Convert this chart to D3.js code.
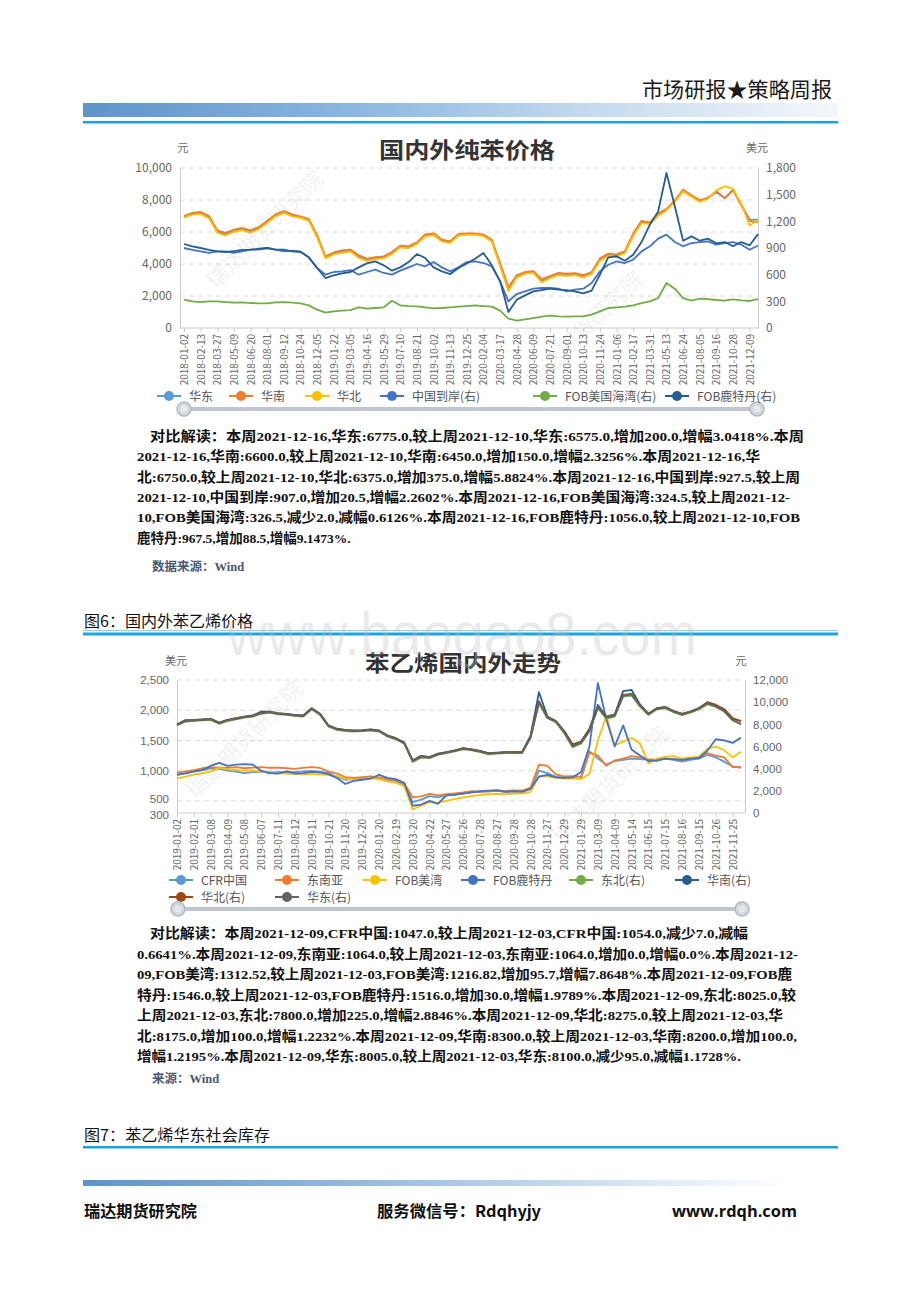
<!DOCTYPE html>
<html><head><meta charset="utf-8">
<script src="https://cdn.jsdelivr.net/npm/d3@7"></script>
<style>
html,body{margin:0;padding:0;background:#fff;}
svg{display:block;}
</style></head><body>
<svg id="page" width="920" height="1302"></svg>
<script>
// ---------------- Chart 1: 国内外纯苯价格 ----------------
const c1Labels = ["2018-01-02","2018-02-13","2018-03-27","2018-05-09","2018-06-20","2018-08-01","2018-09-12","2018-10-24","2018-12-05","2019-01-22","2019-03-05","2019-04-16","2019-05-29","2019-07-10","2019-08-21","2019-10-02","2019-11-13","2019-12-25","2020-02-04","2020-03-17","2020-04-28","2020-06-09","2020-07-21","2020-09-01","2020-10-13","2020-11-24","2021-01-06","2021-02-17","2021-03-31","2021-05-13","2021-06-24","2021-08-05","2021-09-16","2021-10-28","2021-12-09"];
const c1Names = ["华东","华南","华北","中国到岸(右)","FOB美国海湾(右)","FOB鹿特丹(右)"];
const c1Colors = ["#5B9BD5","#ED7D31","#FFC000","#4472C4","#70AD47","#255E91"];
const c1LeftTicks = [0,2000,4000,6000,8000,10000];
const c1RightTicks = [0,300,600,900,1200,1500,1800];
// 2 samples per label interval (元)
const c1_huadong = [6950,7150,7190,6920,6040,5870,6080,6190,6040,6250,6625,7040,7250,7040,6920,6750,5730,4420,4670,4790,4850,4480,4270,4375,4420,4690,5100,5040,5310,5790,5870,5460,5370,5830,5870,5870,5790,5460,3960,2500,3230,3440,3500,2960,3170,3375,3330,3375,3230,3440,4270,4580,4540,4750,5830,6625,6560,7080,7400,7920,8580,8230,7920,8120,8500,8120,8650,7710,6770,6775];
const c1_huanan = [7000,7200,7250,7000,6100,5950,6150,6250,6100,6300,6700,7100,7300,7100,6980,6800,5800,4480,4720,4850,4900,4550,4330,4430,4480,4750,5150,5100,5350,5850,5920,5520,5420,5880,5920,5920,5840,5520,4050,2550,3300,3500,3560,3050,3250,3450,3400,3430,3300,3500,4350,4650,4600,4800,5900,6700,6600,7150,7450,7980,8650,8300,7980,8150,8550,8100,8600,7650,6700,6600];
const c1_huabei = [6900,7080,7120,6850,5950,5780,6000,6120,5950,6180,6560,6980,7200,6980,6880,6700,5650,4350,4600,4700,4780,4380,4180,4300,4350,4620,5040,4980,5250,5720,5800,5400,5300,5780,5820,5830,5740,5400,3850,2300,3150,3380,3450,2850,3100,3300,3250,3300,3150,3380,4200,4500,4450,4680,5750,6550,6500,7000,7350,7880,8550,8200,7880,8080,8600,8850,8700,7750,6400,6750];
// 美元
const c1_cn = [900,878,862,844,862,862,844,862,881,881,900,881,862,870,862,795,675,600,630,637,652,600,630,656,619,600,645,682,720,694,742,682,637,682,742,750,731,694,525,300,382,412,442,450,450,442,412,431,442,506,637,712,750,731,769,862,919,1005,1050,967,919,956,967,975,937,956,967,937,881,927.5];
const c1_usg = [319,300,292,300,300,292,285,289,281,277,277,289,292,285,277,255,206,172,187,195,202,232,217,225,232,307,255,247,244,232,221,225,232,240,247,255,247,240,195,105,82,97,112,127,139,131,127,131,131,150,187,225,232,240,255,281,300,337,506,442,337,307,330,326,315,307,322,311,304,324.5];
const c1_rtd = [945,919,900,878,862,855,866,878,881,892,900,881,881,862,855,795,675,562,592,615,630,682,727,750,705,645,682,742,832,787,682,637,607,675,727,780,844,705,525,180,319,367,412,427,442,431,427,412,390,420,600,795,806,757,825,967,1162,1312,1744,1369,982,1031,982,1005,952,967,919,967,930,1056];

// ---------------- Chart 2: 苯乙烯国内外走势 ----------------
const c2Labels = ["2019-01-02","2019-02-01","2019-03-08","2019-04-09","2019-05-08","2019-06-07","2019-07-11","2019-08-12","2019-09-11","2019-10-21","2019-11-20","2019-12-20","2020-01-20","2020-02-19","2020-03-20","2020-04-22","2020-05-27","2020-06-26","2020-07-28","2020-08-27","2020-09-28","2020-10-28","2020-11-27","2020-12-29","2021-01-29","2021-03-09","2021-04-09","2021-05-14","2021-06-15","2021-07-15","2021-08-16","2021-09-15","2021-10-26","2021-11-25"];
const c2Names = ["CFR中国","东南亚","FOB美湾","FOB鹿特丹","东北(右)","华南(右)","华北(右)","华东(右)"];
const c2Colors = ["#5B9BD5","#ED7D31","#FFC000","#4472C4","#70AD47","#255E91","#9E480E","#636363"];
const c2LeftTicks = [300,500,1000,1500,2000,2500];
const c2RightTicks = [0,2000,4000,6000,8000,10000,12000];
// 美元
const c2_cfr = [930,960,985,1010,1040,1030,1000,985,960,975,985,970,975,980,975,990,995,985,960,900,850,860,870,895,880,850,830,770,480,520,580,560,590,610,625,640,650,660,665,650,660,660,700,1000,960,900,880,885,870,1320,1200,1100,1160,1180,1200,1190,1180,1160,1200,1180,1150,1180,1200,1260,1220,1150,1070,1047];
const c2_sea = [967,990,1010,1040,1055,1050,1045,1060,1040,1050,1060,1045,1050,1040,1030,1045,1060,1045,985,950,895,880,895,905,890,860,845,790,560,575,615,590,610,625,640,660,655,660,670,665,675,670,720,1100,1080,940,905,910,900,1300,1250,1080,1170,1200,1240,1220,1190,1180,1200,1190,1175,1200,1220,1290,1250,1220,1060,1064];
const c2_usg = [870,900,935,960,985,1050,1020,1010,1000,1005,990,960,955,950,945,940,945,935,930,910,870,850,860,875,860,825,800,740,360,420,480,470,500,530,560,580,600,610,615,610,620,620,650,910,905,880,870,875,860,950,1500,1900,1420,1480,1540,1450,1120,1200,1230,1240,1200,1220,1230,1360,1400,1340,1220,1312.52];
const c2_rtd = [930,955,990,1010,1080,1130,1080,1100,1110,1100,1000,960,950,990,955,960,980,970,940,880,780,830,850,870,930,880,860,800,420,440,500,450,590,600,620,640,660,670,680,650,660,650,700,900,930,890,880,890,980,1400,2450,1850,1400,1750,1350,1250,1160,1170,1200,1190,1180,1200,1210,1330,1520,1500,1460,1546];
// 元
const c2_db = [7900,8250,8300,8350,8400,8050,8300,8450,8600,8700,8950,9050,8900,8850,8750,8700,9350,8850,7800,7500,7400,7350,7380,7450,7350,6900,6650,6250,4600,5000,4950,5250,5400,5550,5750,5650,5500,5300,5350,5400,5400,5400,6750,9900,8550,8200,7200,5950,6250,7350,9450,8500,8700,10500,10600,9600,8850,9350,9450,9100,8850,9050,9350,9800,9600,9150,8350,8025];
const c2_hn = [8000,8380,8400,8450,8500,8150,8400,8550,8700,8800,9150,9150,9000,8950,8850,8800,9450,8950,7900,7600,7500,7450,7470,7550,7450,7000,6750,6350,4750,5150,5050,5350,5500,5650,5850,5750,5600,5400,5450,5500,5500,5500,6950,10900,8700,8300,7400,6200,6450,7600,9750,8700,8900,11000,11100,9800,8950,9450,9550,9200,8950,9150,9450,10000,9750,9350,8550,8300];
const c2_hb = [7980,8330,8380,8430,8480,8130,8380,8530,8680,8780,9030,9130,8980,8930,8830,8780,9430,8930,7880,7580,7480,7430,7450,7510,7430,6980,6730,6330,4730,5130,5030,5330,5480,5630,5830,5730,5580,5380,5430,5480,5480,5480,6880,10100,8650,8300,7350,6150,6420,7550,9550,8650,8850,10650,10750,9750,8950,9450,9550,9200,8950,9150,9450,9950,9750,9350,8550,8275];
const c2_hd = [7950,8300,8350,8400,8450,8100,8350,8500,8650,8750,9000,9100,8950,8900,8800,8750,9400,8900,7850,7550,7450,7400,7420,7480,7400,6950,6700,6300,4700,5100,5000,5300,5450,5600,5800,5700,5550,5350,5400,5450,5450,5450,6850,10000,8600,8250,7300,6000,6350,7400,9600,8600,8800,10600,10700,9700,8900,9400,9500,9150,8850,9150,9450,9900,9600,9200,8400,8005];

// ---------------- Texts ----------------
const c1Text = [
 ["对比解读：本周2021-12-16,华东:6775.0,较上周2021-12-10,华东:6575.0,增加200.0,增幅3.0418%.本周",150,804],
 ["2021-12-16,华南:6600.0,较上周2021-12-10,华南:6450.0,增加150.0,增幅2.3256%.本周2021-12-16,华",137,760],
 ["北:6750.0,较上周2021-12-10,华北:6375.0,增加375.0,增幅5.8824%.本周2021-12-16,中国到岸:927.5,较上周",137,800],
 ["2021-12-10,中国到岸:907.0,增加20.5,增幅2.2602%.本周2021-12-16,FOB美国海湾:324.5,较上周2021-12-",137,790],
 ["10,FOB美国海湾:326.5,减少2.0,减幅0.6126%.本周2021-12-16,FOB鹿特丹:1056.0,较上周2021-12-10,FOB",137,800],
 ["鹿特丹:967.5,增加88.5,增幅9.1473%.",137,null]
];
const c2Text = [
 ["对比解读：本周2021-12-09,CFR中国:1047.0,较上周2021-12-03,CFR中国:1054.0,减少7.0,减幅",150,748],
 ["0.6641%.本周2021-12-09,东南亚:1064.0,较上周2021-12-03,东南亚:1064.0,增加0.0,增幅0.0%.本周2021-12-",137,798],
 ["09,FOB美湾:1312.52,较上周2021-12-03,FOB美湾:1216.82,增加95.7,增幅7.8648%.本周2021-12-09,FOB鹿",137,792],
 ["特丹:1546.0,较上周2021-12-03,FOB鹿特丹:1516.0,增加30.0,增幅1.9789%.本周2021-12-09,东北:8025.0,较",137,796],
 ["上周2021-12-03,东北:7800.0,增加225.0,增幅2.8846%.本周2021-12-09,华北:8275.0,较上周2021-12-03,华",137,783],
 ["北:8175.0,增加100.0,增幅1.2232%.本周2021-12-09,华南:8300.0,较上周2021-12-03,华南:8200.0,增加100.0,",137,797],
 ["增幅1.2195%.本周2021-12-09,华东:8005.0,较上周2021-12-03,华东:8100.0,减少95.0,减幅1.1728%.",137,741]
];

// =====================================================
const svg = d3.select('#page');
const CJK = '"Noto Sans CJK SC","Noto Sans",sans-serif';
const SERIF = '"Liberation Serif","Noto Sans CJK SC",serif';
svg.append('rect').attr('width',920).attr('height',1302).attr('fill','#fff');
const defs = svg.append('defs');
const gr = defs.append('linearGradient').attr('id','hdr').attr('x1','0').attr('x2','1').attr('y1','0').attr('y2','0');
gr.append('stop').attr('offset','0').attr('stop-color','#5f93c9');
gr.append('stop').attr('offset','0.35').attr('stop-color','#8ab6e0');
gr.append('stop').attr('offset','0.7').attr('stop-color','#c9ddef');
gr.append('stop').attr('offset','1').attr('stop-color','#f4f7fb');
const gr2 = defs.append('linearGradient').attr('id','ftr').attr('x1','0').attr('x2','1').attr('y1','0').attr('y2','0');
gr2.append('stop').attr('offset','0').attr('stop-color','#5f93c9');
gr2.append('stop').attr('offset','0.45').attr('stop-color','#9cc0e3');
gr2.append('stop').attr('offset','1').attr('stop-color','#ffffff');

function txt(s,x,y,o){
  const t = svg.append('text').attr('x',x).attr('y',y).text(s)
    .attr('font-family',o.family||CJK).attr('font-size',o.size||12)
    .attr('fill',o.fill||'#000').attr('font-weight',o.weight||'normal')
    .attr('text-anchor',o.anchor||'start');
  if(o.len){t.attr('textLength',o.len).attr('lengthAdjust','spacingAndGlyphs');}
  return t;
}

// Header
txt('市场研报★策略周报',832,97,{size:21,anchor:'end',fill:'#1a1a1a',len:190});
svg.append('rect').attr('x',83).attr('y',103).attr('width',755).attr('height',14).attr('fill','url(#hdr)');
svg.append('rect').attr('x',83).attr('y',121).attr('width',755).attr('height',2.5).attr('fill','#1aa3dc');

// generic chart
function drawChart(o){
  const g = svg.append('g');
  const n = o.series[0].values.length;
  const x = d3.scaleLinear().domain([0,n-1]).range([o.xs,o.xe]);
  const yL = d3.scaleLinear().domain([o.leftTicks[0],o.leftTicks[o.leftTicks.length-1]]).range([o.bottom,o.top]);
  const yR = d3.scaleLinear().domain([o.rightTicks[0],o.rightTicks[o.rightTicks.length-1]]).range([o.bottom,o.top]);
  // grid
  g.selectAll('.grid').data(o.leftTicks.slice(1)).join('line')
    .attr('x1',o.left).attr('x2',o.right).attr('y1',d=>yL(d)).attr('y2',d=>yL(d))
    .attr('stroke','#dcdcdc').attr('stroke-dasharray','5,4').attr('stroke-width',1);
  // left axis
  const la = g.append('g').attr('transform',`translate(${o.left},0)`)
    .call(d3.axisLeft(yL).tickValues(o.leftTicks).tickFormat(d3.format(',')).tickSize(0).tickPadding(8));
  la.select('.domain').attr('stroke','#cccccc');
  la.selectAll('text').attr('font-family',o.axisFont||CJK).attr('font-size',o.axisSize||12).attr('fill','#666');
  if(o.tickNudge){ la.selectAll('text').attr('dy',d=>o.tickNudge[d]||'0.32em'); }
  const ra = g.append('g').attr('transform',`translate(${o.right},0)`)
    .call(d3.axisRight(yR).tickValues(o.rightTicks).tickFormat(d3.format(',')).tickSize(0).tickPadding(8));
  ra.select('.domain').attr('stroke','#cccccc');
  ra.selectAll('text').attr('font-family',o.axisFont||CJK).attr('font-size',o.axisSize||12).attr('fill','#666');
  // x axis
  const tickIdx = o.labels.map((d,i)=>i*2);
  const xa = g.append('g').attr('transform',`translate(0,${o.bottom})`)
    .call(d3.axisBottom(x).tickValues(tickIdx).tickFormat(i=>o.labels[i/2]).tickSize(4).tickPadding(3));
  xa.select('.domain').attr('d',`M${o.left},0H${o.right}`).attr('stroke','#cccccc');
  xa.selectAll('.tick line').attr('stroke','#cccccc');
  xa.selectAll('text').attr('font-family',CJK).attr('font-size',10).attr('fill','#666')
    .attr('text-anchor','end').attr('transform','rotate(-90)').attr('x',-6).attr('y',0).attr('dy','0.35em');
  // unit names and title
  txt(o.leftUnit,o.leftUnitX,o.titleY+2,{size:11,fill:'#666',anchor:'middle'});
  txt(o.rightUnit,o.rightUnitX,o.titleY+2,{size:11,fill:'#666',anchor:'middle'});
  txt(o.title,o.titleX,o.titleY+8,{size:22,weight:'bold',fill:'#333',anchor:'middle',len:o.titleLen});
  // lines
  o.series.forEach(s=>{
    const sc = s.right ? yR : yL;
    const line = d3.line().x((d,i)=>x(i)).y(d=>sc(d));
    g.append('path').datum(s.values).attr('d',line).attr('fill','none')
      .attr('stroke',s.color).attr('stroke-width',1.8).attr('stroke-linejoin','round');
  });
  // legend
  o.legend.forEach(l=>{
    g.append('line').attr('x1',l.cx-12).attr('x2',l.cx+12).attr('y1',l.y).attr('y2',l.y).attr('stroke',l.color).attr('stroke-width',2);
    g.append('circle').attr('cx',l.cx).attr('cy',l.y).attr('r',5).attr('fill',l.color);
    txt(l.name,l.cx+20,l.y+4.5,{size:12,fill:'#555'});
  });
  // slider
  g.append('line').attr('x1',o.sl[0]).attr('x2',o.sl[1]).attr('y1',o.sy).attr('y2',o.sy)
    .attr('stroke','#bfc6d1').attr('stroke-width',4);
  [o.sl[0],o.sl[1]].forEach(cx=>{
    g.append('circle').attr('cx',cx).attr('cy',o.sy).attr('r',7).attr('fill','#d3d8df').attr('stroke','#b3bac5').attr('stroke-width',1.5);
    g.append('circle').attr('cx',cx).attr('cy',o.sy).attr('r',3.5).attr('fill','#e6e9ee');
  });
}

drawChart({
  title:'国内外纯苯价格', titleX:467, titleY:150, titleLen:176,
  leftUnit:'元', leftUnitX:183, rightUnit:'美元', rightUnitX:757,
  left:180, right:758, top:168, bottom:328, xs:184, xe:758,
  leftTicks:c1LeftTicks, rightTicks:c1RightTicks, labels:c1Labels,
  series:[
    {values:c1_huadong,color:c1Colors[0]},
    {values:c1_huanan,color:c1Colors[1]},
    {values:c1_huabei,color:c1Colors[2]},
    {values:c1_cn,color:c1Colors[3],right:true},
    {values:c1_usg,color:c1Colors[4],right:true},
    {values:c1_rtd,color:c1Colors[5],right:true}
  ],
  legend:[169,241,317,392,545,677].map((cx,i)=>({cx,y:396,name:c1Names[i],color:c1Colors[i]})),
  sl:[184,757], sy:409
});

drawChart({
  title:'苯乙烯国内外走势', titleX:463, titleY:663, titleLen:196,
  leftUnit:'美元', leftUnitX:176, rightUnit:'元', rightUnitX:741,
  left:177, right:745, top:680, bottom:813, xs:177, xe:741,
  leftTicks:c2LeftTicks, rightTicks:c2RightTicks, labels:c2Labels,
  axisFont:'"Liberation Sans",sans-serif', axisSize:11.5,
  tickNudge:{300:'0.5em',500:'0.15em'},
  series:[
    {values:c2_cfr,color:c2Colors[0]},
    {values:c2_sea,color:c2Colors[1]},
    {values:c2_usg,color:c2Colors[2]},
    {values:c2_rtd,color:c2Colors[3]},
    {values:c2_db,color:c2Colors[4],right:true},
    {values:c2_hn,color:c2Colors[5],right:true},
    {values:c2_hb,color:c2Colors[6],right:true},
    {values:c2_hd,color:c2Colors[7],right:true}
  ],
  legend:[[181,880],[287,880],[375,880],[473,880],[581,880],[687,880],[181,897],[287,897]]
    .map((p,i)=>({cx:p[0],y:p[1],name:c2Names[i],color:c2Colors[i]})),
  sl:[178,742], sy:909
});

// paragraph texts
function para(lines,y0,step){
  lines.forEach((l,i)=>{
    txt(l[0],l[1],y0+i*step,{family:SERIF,size:13.5,weight:'bold',fill:'#111',len:l[2]?l[2]-l[1]:null});
  });
}
para(c1Text,441,20.3);
txt('数据来源：Wind',152,571,{family:SERIF,size:12.5,weight:'bold',fill:'#4a5870'});
para(c2Text,938,20.5);
txt('来源：Wind',152,1083,{family:SERIF,size:12.5,weight:'bold',fill:'#4a5870'});

// section headings
txt('图6：国内外苯乙烯价格',84,627,{size:15.5,fill:'#111',len:169});
svg.append('rect').attr('x',83).attr('y',630).attr('width',755).attr('height',1.2).attr('fill','#8fd0ee');
svg.append('rect').attr('x',83).attr('y',632.5).attr('width',755).attr('height',3).attr('fill','#1aa3dc');
txt('图7：苯乙烯华东社会库存',84,1141,{size:15.5,fill:'#111',len:186});
svg.append('rect').attr('x',83).attr('y',1146).attr('width',755).attr('height',2.5).attr('fill','#1aa3dc');

// footer
svg.append('rect').attr('x',83).attr('y',1180).attr('width',705).attr('height',6).attr('fill','url(#ftr)');
txt('瑞达期货研究院',84,1217,{size:16,weight:'bold',fill:'#111',len:113});
txt('服务微信号：Rdqhyjy',377,1217,{size:16,weight:'bold',fill:'#111',len:164});
txt('www.rdqh.com',672,1217,{size:16.5,weight:'bold',fill:'#111',family:'"Open Sans","Noto Sans",sans-serif',len:125});

// watermarks
txt('www.baogao8.com',462,655,{size:62,fill:'rgba(190,190,190,0.32)',anchor:'middle',family:'"Liberation Sans",sans-serif',len:470});
[[270,235],[590,335],[250,745],[615,790]].forEach(p=>{
  svg.append('text').attr('x',p[0]).attr('y',p[1]).attr('text-anchor','middle')
    .attr('transform',`rotate(-45,${p[0]},${p[1]})`).attr('font-family',CJK).attr('font-size',22)
    .attr('fill','rgba(140,140,140,0.13)').text('瑞达期货研究院');
});
</script></body></html>
